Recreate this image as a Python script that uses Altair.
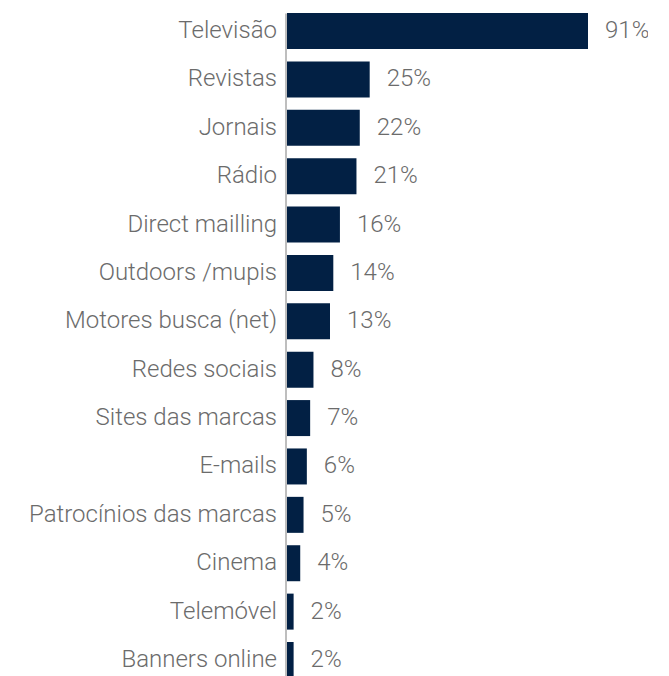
import altair as alt
import pandas as pd

categories = [
    "Televisão", "Revistas", "Jornais", "Rádio", "Direct mailling",
    "Outdoors /mupis", "Motores busca (net)", "Redes sociais",
    "Sites das marcas", "E-mails", "Patrocínios das marcas", "Cinema",
    "Telemóvel", "Banners online",
]
values = [91, 25, 22, 21, 16, 14, 13, 8, 7, 6, 5, 4, 2, 2]

df = pd.DataFrame({"media": categories, "value": values})
df["label"] = [f"{v}%" for v in values]

BAR = "#022044"
TXT = "#6b6b6b"
FONT = "Roboto"
FS = 24

y_enc = alt.Y(
    "media:N",
    sort=categories,
    title=None,
    scale=alt.Scale(paddingInner=0.256, paddingOuter=0),
    axis=alt.Axis(
        domain=True, domainColor="#a9a9a9", domainWidth=1.5,
        ticks=False, grid=False, labelFontSize=FS, labelColor=TXT,
        labelFont=FONT, labelFontWeight=300, labelPadding=9,
        labelLimit=400, offset=1.5,
    ),
)
x_enc = alt.X("value:Q", scale=alt.Scale(domain=[0, 91]), axis=None)

base = alt.Chart(df)
bars = base.mark_bar(color=BAR).encode(x=x_enc, y=y_enc)
text = base.mark_text(
    align="left", baseline="middle", dx=17, fontSize=FS,
    font=FONT, fontWeight=300, color=TXT,
).encode(x=x_enc, y=y_enc, text="label:N")

chart = alt.layer(bars, text).properties(
    width=301,
    height=665,
    padding={"left": 279, "top": 5, "right": 60, "bottom": 0},
    autosize=alt.AutoSizeParams(type="none"),
).configure_view(stroke=None)

chart.save("out.html", embed_options={"renderer": "svg", "actions": False})
